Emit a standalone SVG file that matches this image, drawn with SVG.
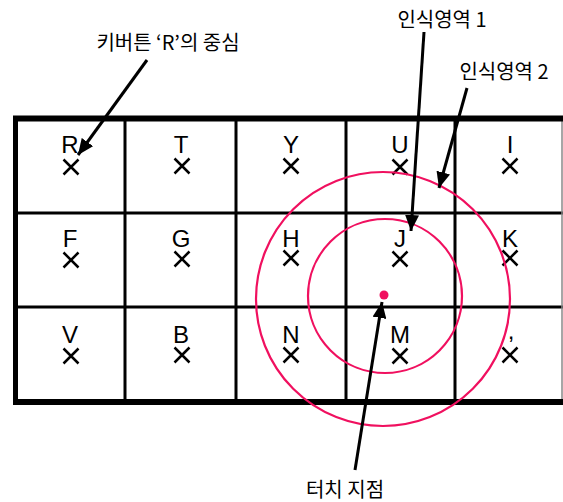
<svg xmlns="http://www.w3.org/2000/svg" width="563" height="502" viewBox="0 0 563 502">
<defs>
<style>
.key{font-family:"Liberation Sans",Arial,sans-serif;font-size:24px;fill:#000;text-anchor:middle}
.lbl{font-family:"Noto Sans CJK KR","Noto Sans",sans-serif;font-size:20px;fill:#000;text-anchor:middle}
.x{stroke:#000;stroke-width:2.5;fill:none}
.grid{stroke:#000;stroke-width:3;fill:none}
.frame{stroke:#000;stroke-width:6;fill:none}
.ring{stroke:#f0105f;stroke-width:2.2;fill:none}
.arr{stroke:#000;stroke-width:3;fill:none;marker-end:url(#ah)}
</style>
<marker id="ah" markerUnits="userSpaceOnUse" markerWidth="18" markerHeight="14" refX="16" refY="7" orient="auto">
<path d="M0,0 L16,7 L0,14 Z" fill="#000"/>
</marker>
<path id="xm" d="M-7.5,-7.5 L7.5,7.5 M7.5,-7.5 L-7.5,7.5"/>
</defs>
<g id="keyboard">
<line class="grid" x1="125" y1="118" x2="125" y2="402"/>
<line class="grid" x1="236" y1="118" x2="236" y2="402"/>
<line class="grid" x1="346" y1="118" x2="346" y2="402"/>
<line class="grid" x1="455" y1="118" x2="455" y2="402"/>
<line class="grid" x1="15" y1="213" x2="563" y2="213"/>
<line class="grid" x1="15" y1="307" x2="563" y2="307"/>
<line x1="562" y1="118" x2="562" y2="402" stroke="#888" stroke-width="1.5"/>
<line class="frame" x1="13" y1="118.5" x2="563" y2="118.5"/>
<line class="frame" x1="13" y1="402" x2="563" y2="402"/>
<line x1="15.5" y1="116" x2="15.5" y2="405" stroke="#000" stroke-width="5"/>
</g>
<g id="key-R"><text class="key" x="70" y="153">R</text><use href="#xm" class="x" x="71" y="167"/></g>
<g id="key-T"><text class="key" x="181" y="153">T</text><use href="#xm" class="x" x="182" y="166"/></g>
<g id="key-Y"><text class="key" x="291" y="153">Y</text><use href="#xm" class="x" x="291" y="166"/></g>
<g id="key-U"><text class="key" x="400" y="153">U</text><use href="#xm" class="x" x="400" y="167"/></g>
<g id="key-I"><text class="key" x="510" y="153">I</text><use href="#xm" class="x" x="510" y="166"/></g>
<g id="key-F"><text class="key" x="70" y="247">F</text><use href="#xm" class="x" x="71" y="260"/></g>
<g id="key-G"><text class="key" x="181" y="247">G</text><use href="#xm" class="x" x="182" y="259"/></g>
<g id="key-H"><text class="key" x="291" y="247">H</text><use href="#xm" class="x" x="291" y="258"/></g>
<g id="key-J"><text class="key" x="400" y="247">J</text><use href="#xm" class="x" x="400" y="259"/></g>
<g id="key-K"><text class="key" x="510" y="247">K</text><use href="#xm" class="x" x="510" y="258"/></g>
<g id="key-V"><text class="key" x="70" y="343">V</text><use href="#xm" class="x" x="71" y="356"/></g>
<g id="key-B"><text class="key" x="181" y="343">B</text><use href="#xm" class="x" x="182" y="355"/></g>
<g id="key-N"><text class="key" x="291" y="343">N</text><use href="#xm" class="x" x="291" y="355"/></g>
<g id="key-M"><text class="key" x="400" y="343">M</text><use href="#xm" class="x" x="400" y="356"/></g>
<g id="key-comma"><text class="key" x="511" y="339">,</text><use href="#xm" class="x" x="510" y="355"/></g>
<g id="zone2"><circle class="ring" cx="383" cy="299" r="127"/></g>
<g id="zone1"><circle class="ring" cx="385" cy="296" r="77"/></g>
<g id="touch"><circle cx="384" cy="295" r="4.5" fill="#f0105f"/></g>
<g id="connectors">
<line class="arr" x1="147" y1="60" x2="78" y2="155"/>
<line class="arr" x1="424" y1="32" x2="411" y2="231"/>
<line class="arr" x1="467" y1="88" x2="439" y2="188"/>
<line class="arr" x1="355" y1="470" x2="382" y2="302"/>
</g>
<g id="label-R"><text class="lbl" x="168" y="50">키버튼 ‘R’의 중심</text></g>
<g id="label-zone1"><text class="lbl" x="442" y="27">인식영역 1</text></g>
<g id="label-zone2"><text class="lbl" x="504" y="79">인식영역 2</text></g>
<g id="label-touch"><text class="lbl" x="345" y="497">터치 지점</text></g>
</svg>
